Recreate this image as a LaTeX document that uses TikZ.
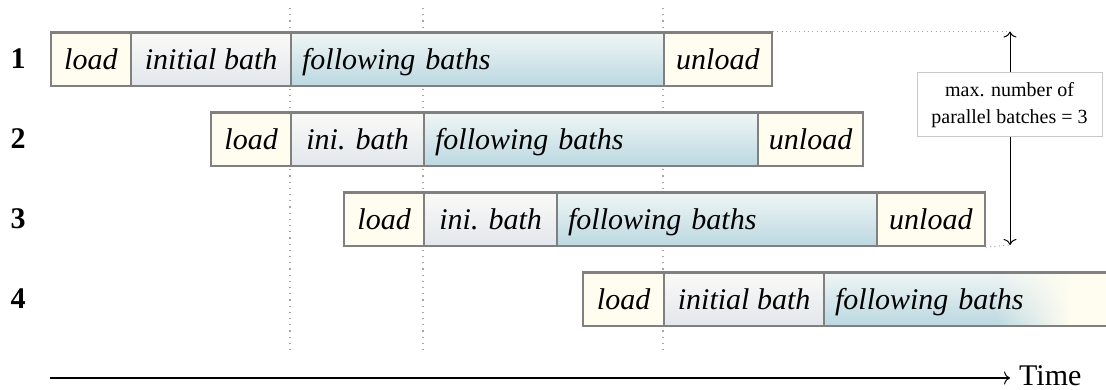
\documentclass[tikz,border=0pt]{standalone}
\usepackage{fontspec}
\setmainfont{Liberation Serif}
\usetikzlibrary{fadings,arrows.meta}
\definecolor{cream}{RGB}{255,253,240}
\definecolor{initop}{RGB}{250,250,247}
\definecolor{inibot}{RGB}{226,231,236}
\definecolor{foltop}{RGB}{240,246,245}
\definecolor{folbot}{RGB}{187,216,225}
\definecolor{bordergray}{RGB}{128,128,128}
\definecolor{guidegray}{RGB}{165,165,165}
\definecolor{labelgray}{RGB}{200,200,200}
\tikzfading[name=faderight, left color=transparent!100, right color=transparent!0]
\tikzset{
  seg/.style={draw=bordergray, line width=2.2pt, minimum height=53.5pt, inner sep=0pt,
    text height=24pt, text depth=3pt,
    anchor=north west, font=\fontsize{30}{36}\selectfont\itshape},
  loadseg/.style={seg, fill=cream, minimum width=#1},
  iniseg/.style={seg, top color=initop, bottom color=inibot, minimum width=#1},
  foltext/.style={seg, inner xsep=11pt, text width=#1-22pt, align=left},
  folseg/.style={foltext=#1, top color=foltop, bottom color=folbot},
  rownum/.style={font=\fontsize{30}{36}\selectfont\bfseries, inner sep=0pt},
  guide/.style={guidegray, line width=1.3pt, dash pattern=on 1.2pt off 5pt},
  hdots/.style={guidegray, line width=1pt, dash pattern=on 1pt off 3.4pt},
  maxlabel/.style={draw=labelgray, line width=1pt, fill=white, align=center,
    minimum width=185pt, minimum height=64pt, inner sep=0pt,
    font=\fontsize{20}{27}\selectfont},
  cmtip/.tip={Computer Modern Rightarrow[length=6pt,width=13pt,line width=1pt]},
  axis/.style={line width=1.4pt, -cmtip},
  span/.style={line width=1pt, cmtip-cmtip}
}
\begin{document}
\begin{tikzpicture}[x=1pt,y=-1pt]
\clip (0,0) rectangle (1106,390);
\useasboundingbox (0,0) rectangle (1106,390);

% guide lines
\coordinate (g1t) at (290,8);  \coordinate (g1b) at (290,352);
\coordinate (g2t) at (423,8);  \coordinate (g2b) at (423,352);
\coordinate (g3t) at (663,8);  \coordinate (g3b) at (663,352);
\draw[guide] (g1t) -- (g1b);
\draw[guide] (g2t) -- (g2b);
\draw[guide] (g3t) -- (g3b);

% row numbers
\node[rownum] (n1) at (18,58.5) {1};
\node[rownum] (n2) at (18,138.5) {2};
\node[rownum] (n3) at (18,218.5) {3};
\node[rownum] (n4) at (18,298.5) {4};

% row 1
\node[loadseg=80.5pt] (l1) at (49.5,31.5) {load};
\node[iniseg=160pt] (i1) at (130,31.5) {initial bath};
\node[folseg=373pt] (f1) at (290,31.5) {following baths};
\node[loadseg=107.5pt] (u1) at (663,31.5) {unload};

% row 2
\node[loadseg=80pt] (l2) at (210,111.5) {load};
\node[iniseg=133pt] (i2) at (290,111.5) {ini. bath};
\node[folseg=334pt] (f2) at (423,111.5) {following baths};
\node[loadseg=105pt] (u2) at (757,111.5) {unload};

% row 3
\node[loadseg=80pt] (l3) at (343,191.5) {load};
\node[iniseg=133pt] (i3) at (423,191.5) {ini. bath};
\node[folseg=320pt] (f3) at (556,191.5) {following baths};
\node[loadseg=107.5pt] (u3) at (876,191.5) {unload};

% row 4
\node[loadseg=81pt] (l4) at (582,271.5) {load};
\node[iniseg=160pt] (i4) at (663,271.5) {initial bath};
\shade[top color=foltop, bottom color=folbot] (823,271.5) rectangle (1106,325);
\fill[cream, path fading=faderight] (995,271.5) rectangle (1070,325);
\fill[cream] (1069,271.5) rectangle (1106,325);
\node[foltext=330pt] (f4) at (823,271.5) {following baths};

% max parallel span
\coordinate (st) at (1010,31.5);
\coordinate (sb) at (1010,245);
\draw[hdots] (u1.north east) -- (st);
\draw[hdots] (u3.south east) -- (sb);
\draw[span] (st) -- (sb);
\node[maxlabel] (lbl) at (1009.5,105) {max. number of\\parallel batches = 3};

% time axis
\coordinate (ax0) at (50,378);
\node[anchor=west, inner xsep=9pt, inner ysep=0pt, font=\fontsize{30}{36}\selectfont] (time) at (1010,375.5) {Time};
\draw[axis] (ax0) -- (time.west |- ax0);
\end{tikzpicture}
\end{document}
